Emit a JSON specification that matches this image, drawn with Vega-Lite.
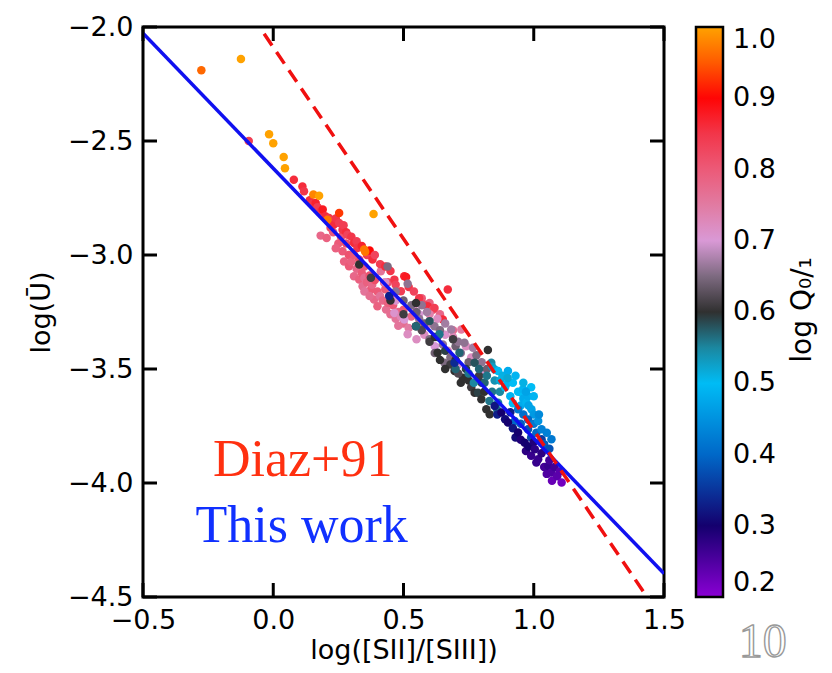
{
"$schema":"https://vega.github.io/schema/vega-lite/v6.json",
"width":521,"height":570,
"autosize":{"type":"none"},
"padding":{"left":143,"top":27,"right":168,"bottom":76},
"background":"white",
"config":{"view":{"stroke":"black","strokeWidth":3},
"axis":{"domain":false,"grid":false,"ticks":false,"labelFont":"DejaVu Sans","labelFontSize":27,"labelColor":"black","labelPadding":10,"titleFont":"DejaVu Sans","titleFontSize":27,"titleFontWeight":"normal","titleColor":"black","labelFlush":false,"labelOverlap":false}},
"datasets":{
"pts":[
{"x":0.182,"y":-2.915,"q":0.78},{"x":0.205,"y":-2.925,"q":0.79},{"x":0.22,"y":-2.88,"q":0.82},{"x":0.23,"y":-2.9,"q":0.8},{"x":0.25,"y":-2.95,"q":0.8},{"x":0.266,"y":-2.984,"q":0.8},{"x":0.272,"y":-3.028,"q":0.79},{"x":0.28,"y":-2.95,"q":0.82},{"x":0.29,"y":-3.0,"q":0.81},{"x":0.291,"y":-3.049,"q":0.8},{"x":0.3,"y":-3.03,"q":0.79},{"x":0.31,"y":-3.093,"q":0.78},{"x":0.32,"y":-3.06,"q":0.78},{"x":0.33,"y":-3.108,"q":0.79},{"x":0.33,"y":-3.02,"q":0.82},{"x":0.34,"y":-3.08,"q":0.8},{"x":0.343,"y":-3.137,"q":0.77},{"x":0.35,"y":-3.05,"q":0.8},{"x":0.35,"y":-3.1,"q":0.77},{"x":0.36,"y":-3.12,"q":0.79},{"x":0.37,"y":-3.09,"q":0.81},{"x":0.375,"y":-3.151,"q":0.8},{"x":0.38,"y":-3.13,"q":0.78},{"x":0.387,"y":-3.195,"q":0.78},{"x":0.39,"y":-3.11,"q":0.82},{"x":0.4,"y":-3.225,"q":0.79},{"x":0.4,"y":-3.16,"q":0.8},{"x":0.41,"y":-3.18,"q":0.76},{"x":0.413,"y":-3.071,"q":0.76},{"x":0.42,"y":-3.2,"q":0.78},{"x":0.426,"y":-3.122,"q":0.78},{"x":0.43,"y":-3.15,"q":0.8},{"x":0.433,"y":-3.239,"q":0.77},{"x":0.44,"y":-3.21,"q":0.79},{"x":0.45,"y":-3.26,"q":0.77},{"x":0.455,"y":-3.18,"q":0.79},{"x":0.46,"y":-3.22,"q":0.8},{"x":0.47,"y":-3.28,"q":0.76},{"x":0.48,"y":-3.25,"q":0.78},{"x":0.5,"y":-3.24,"q":0.8},{"x":0.5,"y":-3.3,"q":0.77},{"x":0.52,"y":-3.32,"q":0.75},{"x":0.53,"y":-3.27,"q":0.78},{"x":0.56,"y":-3.3,"q":0.77},{"x":0.57,"y":-3.19,"q":0.8},{"x":0.6,"y":-3.21,"q":0.79},{"x":0.64,"y":-3.26,"q":0.78},{"x":0.69,"y":-3.33,"q":0.77},{"x":0.35,"y":-3.16,"q":0.76},{"x":0.31,"y":-3.0,"q":0.8},{"x":0.26,"y":-2.92,"q":0.81},{"x":0.44,"y":-3.12,"q":0.81},{"x":0.24,"y":-2.97,"q":0.79},{"x":0.37,"y":-3.18,"q":0.77},{"x":0.48,"y":-3.31,"q":0.76},
{"x":0.14,"y":-2.76,"q":0.86},{"x":0.15,"y":-2.775,"q":0.85},{"x":0.163,"y":-2.772,"q":0.87},{"x":0.17,"y":-2.79,"q":0.84},{"x":0.182,"y":-2.809,"q":0.85},{"x":0.19,"y":-2.8,"q":0.88},{"x":0.2,"y":-2.83,"q":0.86},{"x":0.214,"y":-2.838,"q":0.85},{"x":0.22,"y":-2.85,"q":0.83},{"x":0.232,"y":-2.867,"q":0.86},{"x":0.24,"y":-2.84,"q":0.85},{"x":0.253,"y":-2.86,"q":0.84},{"x":0.266,"y":-2.889,"q":0.85},{"x":0.27,"y":-2.87,"q":0.84},{"x":0.28,"y":-2.9,"q":0.86},{"x":0.285,"y":-2.911,"q":0.83},{"x":0.3,"y":-2.92,"q":0.85},{"x":0.31,"y":-2.947,"q":0.86},{"x":0.32,"y":-2.94,"q":0.84},{"x":0.323,"y":-2.969,"q":0.85},{"x":0.34,"y":-2.96,"q":0.87},{"x":0.36,"y":-3.0,"q":0.84},{"x":0.37,"y":-2.98,"q":0.9},{"x":0.381,"y":-3.02,"q":0.86},{"x":0.39,"y":-3.0,"q":0.83},{"x":0.41,"y":-3.04,"q":0.84},{"x":0.43,"y":-3.05,"q":0.86},{"x":0.45,"y":-3.07,"q":0.85},{"x":0.465,"y":-3.108,"q":0.85},{"x":0.47,"y":-3.13,"q":0.83},{"x":0.49,"y":-3.159,"q":0.84},{"x":0.503,"y":-3.093,"q":0.87},{"x":0.51,"y":-3.096,"q":0.88},{"x":0.52,"y":-3.14,"q":0.85},{"x":0.54,"y":-3.16,"q":0.83},{"x":0.58,"y":-3.217,"q":0.82},{"x":0.593,"y":-3.225,"q":0.86},{"x":0.613,"y":-3.24,"q":0.81},{"x":0.619,"y":-3.232,"q":0.84},{"x":0.651,"y":-3.283,"q":0.86},{"x":0.56,"y":-3.19,"q":0.85},{"x":0.353,"y":-2.986,"q":0.97},
{"x":0.43,"y":-3.12,"q":0.72},{"x":0.465,"y":-3.254,"q":0.71},{"x":0.47,"y":-3.2,"q":0.71},{"x":0.49,"y":-3.27,"q":0.73},{"x":0.503,"y":-3.283,"q":0.7},{"x":0.516,"y":-3.348,"q":0.72},{"x":0.54,"y":-3.24,"q":0.72},{"x":0.55,"y":-3.37,"q":0.72},{"x":0.56,"y":-3.26,"q":0.7},{"x":0.58,"y":-3.35,"q":0.72},{"x":0.6,"y":-3.3,"q":0.73},{"x":0.6,"y":-3.26,"q":0.74},{"x":0.62,"y":-3.4,"q":0.7},{"x":0.63,"y":-3.28,"q":0.72},{"x":0.66,"y":-3.35,"q":0.71},{"x":0.69,"y":-3.36,"q":0.73},{"x":0.71,"y":-3.48,"q":0.71},{"x":0.722,"y":-3.327,"q":0.75},{"x":0.76,"y":-3.45,"q":0.72},{"x":0.799,"y":-3.509,"q":0.7},{"x":0.805,"y":-3.516,"q":0.7},{"x":0.74,"y":-3.4,"q":0.72},{"x":0.67,"y":-3.42,"q":0.73},
{"x":0.439,"y":-3.05,"q":0.65},{"x":0.47,"y":-3.16,"q":0.66},{"x":0.5,"y":-3.2,"q":0.64},{"x":0.516,"y":-3.126,"q":0.66},{"x":0.53,"y":-3.22,"q":0.65},{"x":0.56,"y":-3.28,"q":0.66},{"x":0.57,"y":-3.22,"q":0.66},{"x":0.58,"y":-3.3,"q":0.64},{"x":0.6,"y":-3.37,"q":0.65},{"x":0.619,"y":-3.312,"q":0.66},{"x":0.62,"y":-3.43,"q":0.64},{"x":0.64,"y":-3.33,"q":0.65},{"x":0.651,"y":-3.392,"q":0.66},{"x":0.657,"y":-3.473,"q":0.65},{"x":0.66,"y":-3.3,"q":0.67},{"x":0.68,"y":-3.45,"q":0.65},{"x":0.683,"y":-3.327,"q":0.67},{"x":0.7,"y":-3.4,"q":0.64},{"x":0.72,"y":-3.43,"q":0.66},{"x":0.734,"y":-3.385,"q":0.66},{"x":0.75,"y":-3.47,"q":0.64},{"x":0.767,"y":-3.407,"q":0.67},{"x":0.78,"y":-3.44,"q":0.65},{"x":0.8,"y":-3.47,"q":0.66},{"x":0.82,"y":-3.5,"q":0.64},{"x":0.59,"y":-3.25,"q":0.67},{"x":0.63,"y":-3.36,"q":0.63},{"x":0.71,"y":-3.38,"q":0.66},{"x":0.55,"y":-3.25,"q":0.64},
{"x":0.33,"y":-3.042,"q":0.6},{"x":0.375,"y":-3.1,"q":0.61},{"x":0.45,"y":-3.2,"q":0.6},{"x":0.5,"y":-3.26,"q":0.61},{"x":0.548,"y":-3.21,"q":0.6},{"x":0.548,"y":-3.312,"q":0.6},{"x":0.57,"y":-3.33,"q":0.62},{"x":0.6,"y":-3.38,"q":0.61},{"x":0.62,"y":-3.36,"q":0.6},{"x":0.631,"y":-3.429,"q":0.6},{"x":0.64,"y":-3.46,"q":0.6},{"x":0.66,"y":-3.42,"q":0.59},{"x":0.68,"y":-3.48,"q":0.61},{"x":0.69,"y":-3.37,"q":0.61},{"x":0.696,"y":-3.509,"q":0.6},{"x":0.7,"y":-3.46,"q":0.6},{"x":0.72,"y":-3.56,"q":0.6},{"x":0.728,"y":-3.538,"q":0.6},{"x":0.74,"y":-3.5,"q":0.59},{"x":0.75,"y":-3.55,"q":0.6},{"x":0.76,"y":-3.58,"q":0.61},{"x":0.773,"y":-3.473,"q":0.58},{"x":0.773,"y":-3.604,"q":0.6},{"x":0.786,"y":-3.604,"q":0.59},{"x":0.79,"y":-3.53,"q":0.61},{"x":0.799,"y":-3.633,"q":0.6},{"x":0.8,"y":-3.56,"q":0.59},{"x":0.81,"y":-3.6,"q":0.6},{"x":0.818,"y":-3.677,"q":0.6},{"x":0.824,"y":-3.417,"q":0.6},{"x":0.831,"y":-3.699,"q":0.6},{"x":0.71,"y":-3.52,"q":0.62},{"x":0.66,"y":-3.5,"q":0.6},
{"x":0.548,"y":-3.312,"q":0.57},{"x":0.6,"y":-3.29,"q":0.58},{"x":0.638,"y":-3.348,"q":0.56},{"x":0.7,"y":-3.5,"q":0.57},{"x":0.715,"y":-3.429,"q":0.57},{"x":0.75,"y":-3.52,"q":0.56},{"x":0.77,"y":-3.56,"q":0.55},{"x":0.79,"y":-3.5,"q":0.57},{"x":0.811,"y":-3.56,"q":0.57},{"x":0.82,"y":-3.53,"q":0.56},{"x":0.837,"y":-3.473,"q":0.55},{"x":0.84,"y":-3.6,"q":0.56},{"x":0.85,"y":-3.55,"q":0.54},{"x":0.86,"y":-3.68,"q":0.56},{"x":0.863,"y":-3.648,"q":0.55},{"x":0.87,"y":-3.6,"q":0.55},{"x":0.83,"y":-3.64,"q":0.56},
{"x":0.84,"y":-3.49,"q":0.53},{"x":0.85,"y":-3.502,"q":0.52},{"x":0.863,"y":-3.509,"q":0.5},{"x":0.87,"y":-3.55,"q":0.52},{"x":0.88,"y":-3.53,"q":0.51},{"x":0.89,"y":-3.58,"q":0.5},{"x":0.901,"y":-3.509,"q":0.48},{"x":0.901,"y":-3.56,"q":0.49},{"x":0.91,"y":-3.62,"q":0.49},{"x":0.92,"y":-3.56,"q":0.5},{"x":0.92,"y":-3.65,"q":0.5},{"x":0.93,"y":-3.53,"q":0.49},{"x":0.94,"y":-3.6,"q":0.5},{"x":0.95,"y":-3.66,"q":0.48},{"x":0.953,"y":-3.604,"q":0.5},{"x":0.959,"y":-3.589,"q":0.49},{"x":0.96,"y":-3.56,"q":0.51},{"x":0.96,"y":-3.63,"q":0.48},{"x":0.972,"y":-3.648,"q":0.49},{"x":0.978,"y":-3.619,"q":0.48},{"x":0.98,"y":-3.66,"q":0.47},{"x":0.99,"y":-3.58,"q":0.5},{"x":0.991,"y":-3.677,"q":0.47},{"x":1.0,"y":-3.62,"q":0.49},{"x":1.0,"y":-3.7,"q":0.46},{"x":0.9,"y":-3.54,"q":0.52},{"x":0.97,"y":-3.6,"q":0.47},
{"x":0.927,"y":-3.728,"q":0.4},{"x":0.94,"y":-3.677,"q":0.42},{"x":0.95,"y":-3.74,"q":0.39},{"x":0.96,"y":-3.7,"q":0.41},{"x":0.978,"y":-3.721,"q":0.4},{"x":0.978,"y":-3.764,"q":0.38},{"x":0.99,"y":-3.8,"q":0.37},{"x":1.0,"y":-3.74,"q":0.42},{"x":1.01,"y":-3.78,"q":0.4},{"x":1.017,"y":-3.728,"q":0.45},{"x":1.03,"y":-3.764,"q":0.43},{"x":1.03,"y":-3.808,"q":0.36},{"x":1.04,"y":-3.83,"q":0.39},{"x":1.05,"y":-3.78,"q":0.43},{"x":1.06,"y":-3.85,"q":0.38},{"x":1.068,"y":-3.808,"q":0.42},{"x":1.02,"y":-3.7,"q":0.44},
{"x":0.445,"y":-3.18,"q":0.33},{"x":0.696,"y":-3.473,"q":0.34},{"x":0.85,"y":-3.662,"q":0.32},{"x":0.86,"y":-3.7,"q":0.33},{"x":0.876,"y":-3.691,"q":0.3},{"x":0.89,"y":-3.72,"q":0.31},{"x":0.901,"y":-3.735,"q":0.3},{"x":0.91,"y":-3.69,"q":0.33},{"x":0.92,"y":-3.76,"q":0.32},{"x":0.93,"y":-3.8,"q":0.31},{"x":0.94,"y":-3.779,"q":0.3},{"x":0.95,"y":-3.81,"q":0.29},{"x":0.965,"y":-3.823,"q":0.3},{"x":0.97,"y":-3.86,"q":0.28},{"x":0.98,"y":-3.84,"q":0.3},{"x":0.99,"y":-3.88,"q":0.27},{"x":1.0,"y":-3.82,"q":0.29},{"x":1.004,"y":-3.852,"q":0.28},{"x":1.01,"y":-3.91,"q":0.27},{"x":1.017,"y":-3.896,"q":0.27},{"x":1.03,"y":-3.87,"q":0.28},{"x":1.04,"y":-3.93,"q":0.26},{"x":1.05,"y":-3.96,"q":0.25},{"x":1.056,"y":-3.925,"q":0.27},{"x":1.06,"y":-3.9,"q":0.26},{"x":1.068,"y":-3.954,"q":0.25},{"x":1.07,"y":-3.99,"q":0.23},{"x":1.08,"y":-3.93,"q":0.26},{"x":1.09,"y":-3.97,"q":0.24},{"x":1.1,"y":-3.95,"q":0.24},{"x":1.107,"y":-3.998,"q":0.22},
{"x":-0.276,"y":-2.19,"q":0.96},{"x":-0.124,"y":-2.14,"q":1.0},{"x":-0.094,"y":-2.5,"q":0.84},{"x":-0.016,"y":-2.47,"q":1.0},{"x":0.0,"y":-2.51,"q":1.0},{"x":0.04,"y":-2.57,"q":1.0},{"x":0.045,"y":-2.62,"q":1.0},{"x":0.079,"y":-2.67,"q":0.86},{"x":0.112,"y":-2.7,"q":0.86},{"x":0.118,"y":-2.72,"q":0.85},{"x":0.154,"y":-2.735,"q":0.98},{"x":0.176,"y":-2.74,"q":1.0},{"x":0.385,"y":-2.82,"q":1.0},{"x":0.253,"y":-2.816,"q":0.93},{"x":0.67,"y":-3.151,"q":0.86},{"x":0.208,"y":-2.845,"q":0.97},{"x":0.349,"y":-2.976,"q":0.97}
],
"blue":[{"x":-0.5,"y":-2.0275},{"x":1.5,"y":-4.3975}],
"red":[{"x":-0.035,"y":-2.03},{"x":1.435,"y":-4.5}],
"xt":[{"v":-0.5},{"v":0},{"v":0.5},{"v":1},{"v":1.5}],
"yt":[{"v":-4.5},{"v":-4},{"v":-3.5},{"v":-3},{"v":-2.5},{"v":-2}]
},
"layer":[
{"data":{"name":"pts"},"mark":{"type":"circle","size":72,"opacity":1},
"encoding":{
"x":{"field":"x","type":"quantitative","title":"log([SII]/[SIII])","scale":{"domain":[-0.5,1.5],"nice":false,"zero":false},"axis":{"orient":"bottom","values":[-0.5,0,0.5,1,1.5],"format":".1f","title":"log([SII]/[SIII])","titlePadding":4}},
"y":{"field":"y","type":"quantitative","title":"log(Ū)","scale":{"domain":[-4.5,-2.0],"nice":false,"zero":false},"axis":{"orient":"left","values":[-4.5,-4,-3.5,-3,-2.5,-2],"format":".1f","title":"log(Ū)","titlePadding":12}},
"color":{"field":"q","type":"quantitative","scale":{"domain":[0.2,0.3,0.4,0.5,0.55,0.6,0.65,0.7,0.75,0.8,0.85,0.9,0.95,1.0],"range":["#8a00d4","#14006e","#0068c8","#00bcf5","#1b87a0","#303030","#7d6a80","#d999d6","#e17ba2","#ec5a78","#f2364a","#ff0505","#ff5a00","#ffa200"],"interpolate":"rgb"},
"legend":{"orient":"right","offset":32,"title":null,"values":[0.2,0.3,0.4,0.5,0.6,0.7,0.8,0.9,1.0],"format":".1f","direction":"vertical","gradientLength":570,"gradientThickness":27,"gradientStrokeColor":"black","gradientStrokeWidth":2.5,"labelFont":"DejaVu Sans","labelFontSize":27,"labelColor":"black","labelOffset":10,"labelBaseline":"middle","labelOverlap":false,"padding":0}}}},
{"data":{"name":"blue"},"mark":{"type":"line","color":"#1010f0","strokeWidth":3.5,"clip":true},
"encoding":{"x":{"field":"x","type":"quantitative","title":"log([SII]/[SIII])","scale":{"domain":[-0.5,1.5],"nice":false,"zero":false}},
"y":{"field":"y","type":"quantitative","title":"log(Ū)","scale":{"domain":[-4.5,-2.0],"nice":false,"zero":false}}}},
{"data":{"name":"red"},"mark":{"type":"line","color":"#f01010","strokeWidth":3.5,"strokeDash":[14,8],"clip":true},
"encoding":{"x":{"field":"x","type":"quantitative","title":"log([SII]/[SIII])","scale":{"domain":[-0.5,1.5],"nice":false,"zero":false}},
"y":{"field":"y","type":"quantitative","title":"log(Ū)","scale":{"domain":[-4.5,-2.0],"nice":false,"zero":false}}}},
{"data":{"name":"xt"},"mark":{"type":"rule","color":"black","strokeWidth":3},
"encoding":{"x":{"field":"v","type":"quantitative","title":"log([SII]/[SIII])","scale":{"domain":[-0.5,1.5],"nice":false,"zero":false}},
"y":{"datum":-4.5,"type":"quantitative","title":"log(Ū)","scale":{"domain":[-4.5,-2.0],"nice":false,"zero":false}},"y2":{"datum":-4.4386}}},
{"data":{"name":"xt"},"mark":{"type":"rule","color":"black","strokeWidth":3},
"encoding":{"x":{"field":"v","type":"quantitative","title":"log([SII]/[SIII])","scale":{"domain":[-0.5,1.5],"nice":false,"zero":false}},
"y":{"datum":-2.0,"type":"quantitative","title":"log(Ū)","scale":{"domain":[-4.5,-2.0],"nice":false,"zero":false}},"y2":{"datum":-2.0614}}},
{"data":{"name":"yt"},"mark":{"type":"rule","color":"black","strokeWidth":3},
"encoding":{"y":{"field":"v","type":"quantitative","title":"log(Ū)","scale":{"domain":[-4.5,-2.0],"nice":false,"zero":false}},
"x":{"datum":-0.5,"type":"quantitative","title":"log([SII]/[SIII])","scale":{"domain":[-0.5,1.5],"nice":false,"zero":false}},"x2":{"datum":-0.4462}}},
{"data":{"name":"yt"},"mark":{"type":"rule","color":"black","strokeWidth":3},
"encoding":{"y":{"field":"v","type":"quantitative","title":"log(Ū)","scale":{"domain":[-4.5,-2.0],"nice":false,"zero":false}},
"x":{"datum":1.5,"type":"quantitative","title":"log([SII]/[SIII])","scale":{"domain":[-0.5,1.5],"nice":false,"zero":false}},"x2":{"datum":1.4462}}},
{"data":{"values":[{"x":0.113,"y":-3.97,"t":"Diaz+91"}]},"mark":{"type":"text","font":"Liberation Serif","fontSize":52,"color":"#ff3010","align":"center","baseline":"alphabetic"},
"encoding":{"x":{"field":"x","type":"quantitative","title":"log([SII]/[SIII])","scale":{"domain":[-0.5,1.5],"nice":false,"zero":false}},"y":{"field":"y","type":"quantitative","title":"log(Ū)","scale":{"domain":[-4.5,-2.0],"nice":false,"zero":false}},"text":{"field":"t"}}},
{"data":{"values":[{"x":0.109,"y":-4.259,"t":"This work"}]},"mark":{"type":"text","font":"Liberation Serif","fontSize":52,"color":"#1030ff","align":"center","baseline":"alphabetic"},
"encoding":{"x":{"field":"x","type":"quantitative","title":"log([SII]/[SIII])","scale":{"domain":[-0.5,1.5],"nice":false,"zero":false}},"y":{"field":"y","type":"quantitative","title":"log(Ū)","scale":{"domain":[-4.5,-2.0],"nice":false,"zero":false}},"text":{"field":"t"}}},
{"data":{"values":[{"x":1.879,"y":-4.763,"t":"10"}]},"mark":{"type":"text","font":"Liberation Serif","fontSize":48,"fill":"#ffffff","stroke":"#999999","strokeWidth":1.4,"align":"center","baseline":"alphabetic"},
"encoding":{"x":{"field":"x","type":"quantitative","title":"log([SII]/[SIII])","scale":{"domain":[-0.5,1.5],"nice":false,"zero":false}},"y":{"field":"y","type":"quantitative","title":"log(Ū)","scale":{"domain":[-4.5,-2.0],"nice":false,"zero":false}},"text":{"field":"t"}}},
{"data":{"values":[{"x":2.033,"y":-3.241,"t":"log Q₀/₁"}]},"mark":{"type":"text","font":"DejaVu Sans","fontSize":28,"angle":270,"color":"black","align":"center","baseline":"middle"},
"encoding":{"x":{"field":"x","type":"quantitative","title":"log([SII]/[SIII])","scale":{"domain":[-0.5,1.5],"nice":false,"zero":false}},"y":{"field":"y","type":"quantitative","title":"log(Ū)","scale":{"domain":[-4.5,-2.0],"nice":false,"zero":false}},"text":{"field":"t"}}}
]
}
